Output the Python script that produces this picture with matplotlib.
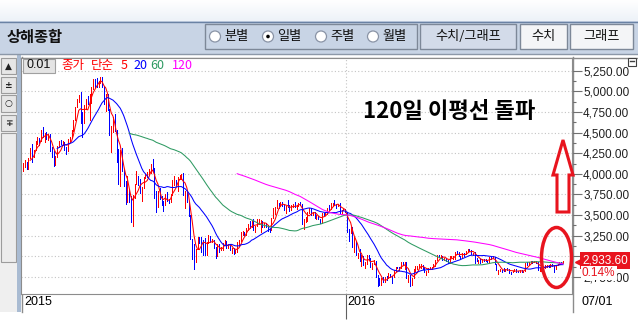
import numpy as np
import pandas as pd
import matplotlib
matplotlib.use("Agg")
import matplotlib.pyplot as plt
import matplotlib.transforms as mtransforms
from matplotlib.patches import Rectangle, Ellipse, Polygon, Circle
from matplotlib.colors import LinearSegmentedColormap

plt.rcParams['font.family'] = ['Noto Sans CJK KR', 'DejaVu Sans']
NUM_FONT = ['Liberation Sans', 'DejaVu Sans']

# Shanghai Composite, daily, Apr 2015 .. Jul 2016 (trading days per month)
month_days = [14, 20, 21, 23, 21, 20, 17, 21, 23, 20, 16, 23, 20, 21, 20, 1]
year_labels = ['2015', '2016']
last_label = '07/01'
title = '상해종합'
ma_periods = [5, 20, 60, 120]
ma_colors = ['#FF0000', '#0000FF', '#2E9A62', '#FF00FF']
yticks = [2750, 3000, 3250, 3500, 3750, 4000, 4250, 4500, 4750, 5000, 5250]

closes = [
    4121, 4135, 4084, 4194, 4287, 4217, 4293, 4398, 4414, 4394, 4527, 4476, 4476, 4441,
    4480, 4298, 4229, 4112, 4205, 4333, 4401, 4375, 4378, 4308, 4283, 4417, 4446, 4529, 4657, 4813, 4910, 4941, 4620, 4611,
    4828, 4910, 4909, 4947, 5023, 5131, 5113, 5106, 5121, 5166, 5062, 4887, 4967, 4785, 4478, 4576, 4690, 4527, 4192, 4053, 4277,
    4053, 3912, 3687, 3775, 3727, 3507, 3710, 3877, 3970, 3924, 3805, 3823, 3958, 3992, 4017, 4026, 4124, 4070, 3725, 3663, 3789, 3705, 3664,
    3622, 3756, 3695, 3661, 3744, 3928, 3928, 3887, 3955, 3965, 3993, 3749, 3794, 3664, 3507, 3210, 2965, 2927, 3084, 3232, 3206,
    3166, 3160, 3080, 3170, 3243, 3197, 3200, 3114, 3005, 3152, 3086, 3097, 3156, 3186, 3116, 3142, 3093, 3101, 3038, 3053,
    3143, 3183, 3288, 3293, 3263, 3338, 3391, 3387, 3425, 3320, 3369, 3412, 3430, 3434, 3375, 3387, 3383,
    3326, 3316, 3460, 3522, 3590, 3646, 3640, 3650, 3632, 3580, 3607, 3604, 3568, 3618, 3630, 3610, 3616, 3647, 3635, 3436, 3445,
    3456, 3536, 3584, 3525, 3536, 3470, 3472, 3455, 3435, 3520, 3510, 3516, 3580, 3578, 3642, 3651, 3636, 3612, 3628, 3533, 3563, 3572, 3539,
    3296, 3288, 3361, 3125, 3186, 3017, 3022, 2949, 3007, 2901, 2913, 3007, 2976, 2880, 2916, 2938, 2750, 2735, 2656, 2737,
    2689, 2749, 2739, 2781, 2763, 2746, 2836, 2867, 2862, 2860, 2927, 2903, 2928, 2741, 2767, 2688,
    2733, 2849, 2859, 2874, 2897, 2901, 2863, 2805, 2810, 2859, 2864, 2870, 2904, 2955, 3018, 2999, 3009, 2960, 2979, 2957, 2920, 3000, 3004,
    3009, 3053, 3050, 3009, 2985, 3034, 3023, 3066, 3082, 3078, 3034, 3042, 2972, 2953, 2960, 2946, 2964, 2954, 2945, 2938,
    2992, 2991, 2998, 2913, 2832, 2832, 2837, 2835, 2828, 2850, 2843, 2807, 2806, 2825, 2843, 2821, 2815, 2822, 2821, 2822, 2917,
    2913, 2925, 2938, 2934, 2936, 2927, 2833, 2842, 2887, 2872, 2885, 2888, 2878, 2905, 2892, 2854, 2895, 2912, 2932, 2929.6,
    2933.6,
]

highs = [
    4128, 4168, 4138, 4195, 4318, 4356, 4294, 4398, 4444, 4436, 4528, 4572, 4500, 4507,
    4489, 4470, 4331, 4275, 4212, 4334, 4402, 4410, 4396, 4380, 4327, 4418, 4448, 4530, 4658, 4814, 4911, 4959, 4987, 4748,
    4829, 4911, 4940, 4964, 5051, 5147, 5147, 5164, 5130, 5178, 5176, 4988, 4968, 4971, 4744, 4576, 4690, 4720, 4456, 4297, 4287,
    4317, 4054, 3913, 3975, 3816, 3628, 3748, 3879, 4030, 3955, 3934, 3836, 3958, 3994, 4018, 4059, 4125, 4184, 4018, 3791, 3790, 3830, 3733,
    3665, 3756, 3782, 3700, 3753, 3929, 3970, 3904, 3956, 3989, 3995, 4006, 3794, 3781, 3641, 3389, 3211, 3155, 3086, 3233, 3227,
    3233, 3197, 3218, 3174, 3256, 3227, 3211, 3183, 3113, 3152, 3140, 3110, 3157, 3196, 3169, 3152, 3150, 3103, 3073, 3074,
    3173, 3199, 3290, 3302, 3287, 3338, 3394, 3434, 3425, 3448, 3370, 3448, 3457, 3441, 3430, 3400, 3409,
    3359, 3333, 3461, 3585, 3597, 3678, 3646, 3654, 3659, 3626, 3608, 3679, 3620, 3619, 3640, 3654, 3626, 3648, 3659, 3633, 3452,
    3483, 3537, 3585, 3568, 3543, 3533, 3500, 3494, 3452, 3521, 3529, 3542, 3584, 3618, 3652, 3652, 3684, 3637, 3636, 3641, 3563, 3580, 3580,
    3538, 3328, 3362, 3309, 3236, 3166, 3041, 3087, 3011, 2998, 2935, 3017, 3019, 2972, 2919, 2953, 2930, 2776, 2740, 2741,
    2747, 2749, 2766, 2797, 2786, 2761, 2836, 2877, 2876, 2870, 2928, 2933, 2928, 2923, 2779, 2780,
    2735, 2850, 2880, 2888, 2903, 2905, 2887, 2867, 2818, 2864, 2870, 2874, 2913, 2958, 3018, 3016, 3013, 2992, 2984, 2984, 2960, 3000, 3010,
    3010, 3054, 3060, 3051, 3005, 3035, 3044, 3066, 3088, 3085, 3077, 3042, 3053, 2984, 2962, 2966, 2965, 2969, 2963, 2947,
    2993, 2993, 3000, 2997, 2911, 2838, 2845, 2840, 2856, 2851, 2858, 2837, 2811, 2826, 2846, 2845, 2825, 2830, 2830, 2827, 2917,
    2930, 2926, 2941, 2948, 2946, 2938, 2891, 2858, 2887, 2885, 2895, 2898, 2896, 2905, 2905, 2895, 2897, 2913, 2935, 2933,
    2944,
]

lows = [
    4038, 4087, 4056, 4059, 4206, 4149, 4200, 4292, 4360, 4352, 4400, 4441, 4392, 4420,
    4414, 4282, 4204, 4099, 4110, 4241, 4320, 4366, 4352, 4287, 4240, 4283, 4390, 4433, 4519, 4653, 4812, 4870, 4614, 4442,
    4615, 4789, 4844, 4647, 4854, 5043, 5050, 5049, 5056, 5100, 5048, 4842, 4767, 4769, 4476, 4264, 4505, 4522, 4140, 3875, 3847,
    4037, 3855, 3630, 3653, 3664, 3421, 3373, 3739, 3899, 3859, 3769, 3673, 3826, 3952, 3961, 3998, 4005, 4031, 3713, 3537, 3603, 3698, 3622,
    3549, 3629, 3677, 3647, 3670, 3782, 3868, 3852, 3798, 3937, 3942, 3743, 3587, 3655, 3490, 3209, 2965, 2851, 2938, 3095, 3156,
    3053, 3019, 3011, 3011, 3167, 3174, 3178, 3106, 2983, 3004, 3050, 3072, 3074, 3155, 3105, 3105, 3080, 3045, 3023, 3040,
    3094, 3129, 3188, 3255, 3255, 3256, 3321, 3346, 3350, 3316, 3292, 3367, 3392, 3296, 3362, 3353, 3355,
    3313, 3295, 3319, 3483, 3510, 3584, 3587, 3612, 3613, 3567, 3522, 3597, 3553, 3567, 3603, 3595, 3578, 3611, 3622, 3396, 3327,
    3420, 3427, 3529, 3502, 3502, 3469, 3451, 3450, 3409, 3409, 3492, 3503, 3538, 3566, 3578, 3614, 3626, 3583, 3610, 3531, 3522, 3557, 3533,
    3295, 3189, 3292, 3115, 3056, 3016, 2983, 2949, 2878, 2892, 2859, 2910, 2959, 2874, 2845, 2910, 2750, 2639, 2653, 2653,
    2684, 2690, 2712, 2741, 2756, 2682, 2746, 2818, 2859, 2835, 2860, 2897, 2850, 2736, 2693, 2638,
    2650, 2733, 2827, 2845, 2869, 2861, 2848, 2805, 2777, 2826, 2843, 2846, 2871, 2889, 2963, 2988, 2983, 2956, 2959, 2948, 2918, 2935, 2992,
    2970, 2966, 3033, 3007, 2969, 2992, 3008, 3035, 3053, 3066, 3028, 3014, 2924, 2943, 2918, 2918, 2935, 2947, 2938, 2927,
    2933, 2971, 2984, 2912, 2832, 2781, 2819, 2806, 2827, 2817, 2834, 2800, 2781, 2805, 2826, 2815, 2806, 2810, 2816, 2807, 2823,
    2894, 2895, 2916, 2923, 2926, 2920, 2831, 2821, 2828, 2866, 2865, 2874, 2873, 2867, 2884, 2807, 2845, 2890, 2910, 2915,
    2920,
]

n = len(closes)
assert len(highs) == n and len(lows) == n and sum(month_days) == n
idx = np.arange(n)
close_s = pd.Series(closes, dtype=float)
opens = np.r_[closes[0], closes[:-1]]
bar_lo = np.minimum(np.minimum(lows, opens), closes)
bar_hi = np.maximum(np.maximum(highs, opens), closes)
bar_col = np.where(np.array(closes) >= opens, '#FF0000', '#0000FF')
year_break = sum(month_days[:9]) - 0.5
last = closes[-1]
pct = (closes[-1] / closes[-2] - 1) * 100

W, H = 638, 335
fig = plt.figure(figsize=(W / 100, H / 100), dpi=100)
fig.patch.set_facecolor('white')

# ---- background / window chrome (pixel coordinates) ----
bg = fig.add_axes([0, 0, 1, 1], zorder=0)
bg.set_xlim(0, W)
bg.set_ylim(H, 0)
bg.axis('off')
grad = LinearSegmentedColormap.from_list('g', ['#FFFFFF', '#EDF2F8'])
bg.imshow(np.linspace(0, 1, 50)[:, None], cmap=grad, aspect='auto', extent=(0, W, 21, 0))
bg.add_patch(Rectangle((0, 21), W, 33, fc='#C8D4E5', ec='none'))
bg.plot([0, W], [21.5, 21.5], color='#6A82A4', lw=1)
bg.plot([0, W], [53.5, 53.5], color='#8C98A8', lw=1)
bg.text(7, 37, title, fontsize=11, weight='bold', ha='left', va='center', color='#101010')

bg.add_patch(Rectangle((205, 24), 212, 25, fc='none', ec='#7D8898', lw=1))
radio = [('분별', 215, False), ('일별', 268, True), ('주별', 321, False), ('월별', 373, False)]
for lab, cx, sel in radio:
    bg.add_patch(Circle((cx, 36.5), 5.5, fc='white', ec='#8A94A6', lw=0.9))
    if sel:
        bg.add_patch(Circle((cx, 36.5), 1.8, fc='black', ec='none'))
    bg.text(cx + 9, 36.5, lab, fontsize=9.5, ha='left', va='center', color='#101010')

buttons = [('수치/그래프', 420, 96, '#D3DBE9'), ('수치', 520, 47, '#F4F5F7'), ('그래프', 570, 63, '#F4F5F7')]
for lab, bx, bw, fc in buttons:
    bg.add_patch(Rectangle((bx, 24), bw, 25, fc=fc, ec='#7D8898', lw=1))
    bg.text(bx + bw / 2, 36.5, lab, fontsize=9.5, ha='center', va='center', color='#101010')

# left toolbar
bg.add_patch(Rectangle((0, 54), 17, 258, fc='#EFEFEF', ec='none'))
for (y0, y1), sym in zip([(58, 74), (77, 93), (95, 112), (115, 131)], ['▲', '±', '○', '∓']):
    bg.add_patch(Rectangle((1, y0), 15, y1 - y0, fc='#E6E6E6', ec='#9C9C9C', lw=0.8))
    bg.text(8.5, (y0 + y1) / 2, sym, fontsize=6.5, weight='bold', ha='center', va='center',
            color='#202020', family='DejaVu Sans')
bg.add_patch(Rectangle((1, 133), 15, 129, fc='#ECECEC', ec='#9C9C9C', lw=0.8))
bg.add_patch(Rectangle((17, 54), 4, 258, fc='#A9BBD2', ec='none'))
bg.plot([21, W], [57.5, 57.5], color='#8C8C8C', lw=1)

# ---- price chart ----
ax = fig.add_axes([21 / W, 1 - 294 / H, (572 - 21) / W, (294 - 58) / H], zorder=1)
ax.set_facecolor('white')
ax.set_xlim(-1.1, 305)
ax.set_ylim(2544, 5404)
ax.vlines(idx, bar_lo, bar_hi, colors=bar_col, lw=0.55, antialiased=False, zorder=3)
for p, c in zip(ma_periods, ma_colors):
    ax.plot(idx, close_s.rolling(p).mean(), color=c, lw=0.75, zorder=4)

ax.set_yticks(yticks)
ax.set_yticklabels([f'{v:,.2f}' for v in yticks], family=NUM_FONT)
ax.set_yticks([v + 125 for v in yticks[:-1]], minor=True)
ax.yaxis.tick_right()
ax.tick_params(axis='y', which='major', length=7, width=0.8, color='#707070', labelsize=8.5,
               labelcolor='#202020', pad=1)
ax.tick_params(axis='y', which='minor', length=3, width=0.8, color='#707070')
ax.set_xticks([year_break])
ax.set_xticklabels([''])
ax.tick_params(axis='x', length=18, width=0.8, color='#606060')
ax.grid(axis='y', color='#C4C4C4', ls=(0, (1, 2)), lw=0.8)
ax.axvline(year_break, color='#C4C4C4', ls=(0, (1, 2)), lw=0.8)
for sp in ax.spines.values():
    sp.set_color('#8C8C8C')
    sp.set_linewidth(0.8)

for lab, xpos in zip(year_labels, [0, year_break]):
    ax.annotate(lab, xy=(xpos, 0), xycoords=('data', 'axes fraction'), xytext=(1, -8),
                textcoords='offset pixels', ha='left', va='center', fontsize=9, family=NUM_FONT)
ax.annotate(last_label, xy=(1, 0), xycoords='axes fraction', xytext=(10, -8),
            textcoords='offset pixels', ha='left', va='center', fontsize=9, family=NUM_FONT,
            annotation_clip=False)

# current price tag
ax.annotate(f'{last:,.2f}', xy=(1, last), xycoords=('axes fraction', 'data'), xytext=(10, 1),
            textcoords='offset pixels', ha='left', va='center', fontsize=8.5, color='white',
            family=NUM_FONT, annotation_clip=False,
            bbox=dict(boxstyle='square,pad=0.2', fc='#E8141E', ec='none'))
tri_tr = mtransforms.offset_copy(mtransforms.blended_transform_factory(ax.transAxes, ax.transData),
                                 fig=fig, x=6, y=0, units='dots')
ax.plot([1], [last], marker='<', ms=5, color='#E8141E', transform=tri_tr, clip_on=False)
ax.annotate(f'{pct:.2f}%', xy=(1, last), xycoords=('axes fraction', 'data'), xytext=(10, -11),
            textcoords='offset pixels', ha='left', va='center', fontsize=8.5, color='#E8141E',
            family=NUM_FONT, annotation_clip=False,
            bbox=dict(boxstyle='square,pad=0.1', fc='white', ec='none'))

# frame lines below the chart
bg.plot([21.5, 21.5], [57, 312], color='#8C8C8C', lw=1)
bg.plot([572.5, 572.5], [57, 312], color='#8C8C8C', lw=1)

# ---- overlay: legend row, note, arrow, ellipse ----
ov = fig.add_axes([0, 0, 1, 1], zorder=5)
ov.set_xlim(0, W)
ov.set_ylim(H, 0)
ov.axis('off')
ov.patch.set_alpha(0)
ov.add_patch(Rectangle((23, 58.5), 32, 14, fc='#E4E4E4', ec='#A0A0A0', lw=0.8))
ov.text(39, 65.5, '0.01', fontsize=9, ha='center', va='center', family=NUM_FONT, color='#101010')
legend_items = [('종가', 61, '#FF0000'), ('단순', 91, '#FF0000'), ('5', 121, ma_colors[0]),
                ('20', 133, ma_colors[1]), ('60', 150, ma_colors[2]), ('120', 172, ma_colors[3])]
for lab, lx, c in legend_items:
    ov.text(lx, 65.5, lab, fontsize=9, ha='left', va='center', color=c)
ov.add_patch(Rectangle((628, 58), 8, 8, fc='white', ec='#404040', lw=0.8))
ov.plot([630, 634], [60.5, 60.5], color='#404040', lw=1)

ov.text(449, 112, '120일 이평선 돌파', fontsize=16, weight='bold', ha='center', va='center',
        color='#000000')
arrow = [(563, 140), (573, 175), (569, 175), (569, 212), (557, 212), (557, 175), (553, 175)]
ov.add_patch(Polygon(arrow, closed=True, fc='none', ec='#E8141E', lw=2.2, joinstyle='miter'))
ov.add_patch(Ellipse((556.5, 257.5), 30, 60, fc='none', ec='#E8141E', lw=2.5))

fig.savefig('out.png', dpi=100)
